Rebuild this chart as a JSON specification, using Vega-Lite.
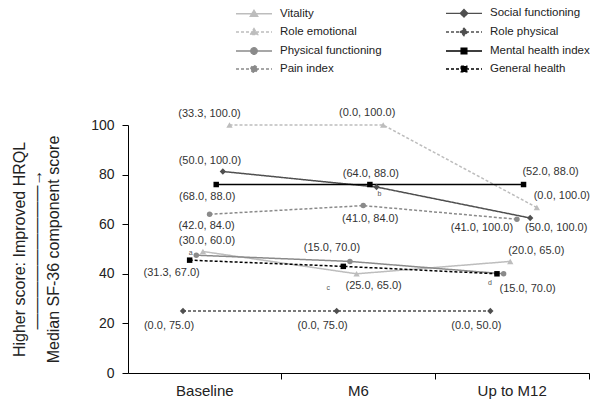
{
  "$schema": "https://vega.github.io/schema/vega-lite/v6.json",
  "width": 461,
  "height": 248,
  "autosize": "none",
  "padding": {"left": 128, "top": 125, "right": 2, "bottom": 30},
  "background": "white",
  "config": {
    "font": "Liberation Sans",
    "view": {"stroke": null},
    "legend": {
      "orient": "none",
      "legendX": 116,
      "legendY": -122,
      "columns": 2,
      "columnPadding": 61,
      "rowPadding": 2,
      "padding": 0,
      "labelFontSize": 11.5,
      "labelColor": "#222",
      "labelOffset": 16,
      "symbolSize": 324,
      "symbolStrokeWidth": 1.3,
      "symbolOpacity": 1
    }
  },
  "data": {
    "values": [
      {"series": "Vitality", "time": "Baseline", "value": 49, "label": "(30.0, 60.0)", "note": null},
      {"series": "Vitality", "time": "M6", "value": 40, "label": "(25.0, 65.0)", "note": null},
      {"series": "Vitality", "time": "Up to M12", "value": 45, "label": "(20.0, 65.0)", "note": null},
      {"series": "Role emotional", "time": "Baseline", "value": 100, "label": "(33.3, 100.0)", "note": null},
      {"series": "Role emotional", "time": "M6", "value": 100, "label": "(0.0, 100.0)", "note": null},
      {"series": "Role emotional", "time": "Up to M12", "value": 66.7, "label": "(0.0, 100.0)", "note": null},
      {"series": "Physical functioning", "time": "Baseline", "value": 47.5, "label": null, "note": null},
      {"series": "Physical functioning", "time": "M6", "value": 45, "label": "(15.0, 70.0)", "note": null},
      {"series": "Physical functioning", "time": "Up to M12", "value": 40, "label": "(15.0, 70.0)", "note": null},
      {"series": "Pain index", "time": "Baseline", "value": 64, "label": "(42.0, 84.0)", "note": null},
      {"series": "Pain index", "time": "M6", "value": 67.5, "label": "(41.0, 84.0)", "note": null},
      {"series": "Pain index", "time": "Up to M12", "value": 62, "label": "(41.0, 100.0)", "note": null},
      {"series": "Social functioning", "time": "Baseline", "value": 81.25, "label": "(50.0, 100.0)", "note": null},
      {"series": "Social functioning", "time": "M6", "value": 75, "label": null, "note": "b"},
      {"series": "Social functioning", "time": "Up to M12", "value": 62.5, "label": "(50.0, 100.0)", "note": null},
      {"series": "Role physical", "time": "Baseline", "value": 25, "label": "(0.0, 75.0)", "note": null},
      {"series": "Role physical", "time": "M6", "value": 25, "label": "(0.0, 75.0)", "note": null},
      {"series": "Role physical", "time": "Up to M12", "value": 25, "label": "(0.0, 50.0)", "note": null},
      {"series": "Mental health index", "time": "Baseline", "value": 76, "label": "(68.0, 88.0)", "note": null},
      {"series": "Mental health index", "time": "M6", "value": 76, "label": "(64.0, 88.0)", "note": null},
      {"series": "Mental health index", "time": "Up to M12", "value": 76, "label": "(52.0, 88.0)", "note": null},
      {"series": "General health", "time": "Baseline", "value": 45.5, "label": "(31.3, 67.0)", "note": "a"},
      {"series": "General health", "time": "M6", "value": 43, "label": null, "note": "c"},
      {"series": "General health", "time": "Up to M12", "value": 40, "label": null, "note": "d"}
    ]
  },
  "encoding": {
    "x": {
      "field": "time", "type": "nominal", "sort": ["Baseline", "M6", "Up to M12"],
      "scale": {"paddingInner": 0, "paddingOuter": 0},
      "axis": {"title": null, "labelAngle": 0, "labelFontSize": 15, "labelColor": "#222", "bandPosition": 1, "tickSize": 6, "labelPadding": 4, "grid": false,
               "domain": true, "ticks": true, "domainColor": "#000", "tickColor": "#000", "domainWidth": 1, "tickWidth": 1, "domainOpacity": 1, "tickOpacity": 1}
    },
    "xOffset": {
      "field": "series", "type": "nominal",
      "scale": {"type": "point", "padding": 0, "domain": ["Role physical", "General health", "Physical functioning", "Vitality", "Pain index", "Mental health index", "Social functioning", "Role emotional"], "range": [55, 101.5]}
    },
    "y": {
      "field": "value", "type": "quantitative",
      "scale": {"domain": [0, 100], "nice": false, "zero": true},
      "axis": {
        "values": [0, 20, 40, 60, 80, 100], "grid": false, "labelFontSize": 14, "labelColor": "#222",
        "tickSize": 6, "labelPadding": 8,
        "domain": true, "ticks": true, "domainColor": "#000", "tickColor": "#000", "domainWidth": 1, "tickWidth": 1, "domainOpacity": 1, "tickOpacity": 1,
        "title": ["Higher score: Improved HRQL", "—————————→", "", "Median SF-36 component score"],
        "titleFontSize": 16, "titleFontWeight": "normal", "titleColor": "#222", "titleLineHeight": 17, "titlePadding": 12
      }
    }
  },
  "layer": [
    {
      "mark": {"type": "line", "strokeWidth": 1.5},
      "encoding": {
        "stroke": {"field": "series", "type": "nominal", "legend": {"title": null},
          "scale": {"domain": ["Vitality", "Role emotional", "Physical functioning", "Pain index", "Social functioning", "Role physical", "Mental health index", "General health"],
                    "range": ["#bdbdbd", "#bdbdbd", "#8a8a8a", "#8a8a8a", "#4f4f4f", "#4f4f4f", "#000000", "#000000"]}},
        "strokeDash": {"field": "series", "type": "nominal", "legend": {"title": null},
          "scale": {"domain": ["Vitality", "Role emotional", "Physical functioning", "Pain index", "Social functioning", "Role physical", "Mental health index", "General health"],
                    "range": [[1, 0], [3, 2], [1, 0], [3, 2], [1, 0], [3, 2], [1, 0], [3, 2]]}}
      }
    },
    {
      "transform": [{"filter": "false"}],
      "mark": {"type": "point", "filled": true, "size": 324, "strokeWidth": 1.3, "opacity": 1},
      "encoding": {
        "fill": {"field": "series", "type": "nominal", "legend": {"title": null},
          "scale": {"domain": ["Vitality", "Role emotional", "Physical functioning", "Pain index", "Social functioning", "Role physical", "Mental health index", "General health"],
                    "range": ["#bdbdbd", "#bdbdbd", "#8a8a8a", "#8a8a8a", "#4f4f4f", "#4f4f4f", "#000000", "#000000"]}},
        "stroke": {"field": "series", "type": "nominal", "legend": {"title": null}},
        "strokeDash": {"field": "series", "type": "nominal", "legend": {"title": null}},
        "shape": {"field": "series", "type": "nominal", "legend": {"title": null},
          "scale": {"domain": ["Vitality", "Role emotional", "Physical functioning", "Pain index", "Social functioning", "Role physical", "Mental health index", "General health"],
                    "range": [
                      "M-2,0H2M0,-0.4L0.42,0.3L-0.42,0.3Z",
                      "M-2,0H2M0,-0.4L0.42,0.3L-0.42,0.3Z",
                      "M-2,0H2M0.36,0A0.36,0.36 0 1,1 -0.36,0A0.36,0.36 0 1,1 0.36,0Z",
                      "M-2,0H2M0.36,0A0.36,0.36 0 1,1 -0.36,0A0.36,0.36 0 1,1 0.36,0Z",
                      "M-2,0H2M0,-0.42L0.42,0L0,0.42L-0.42,0Z",
                      "M-2,0H2M0,-0.42L0.42,0L0,0.42L-0.42,0Z",
                      "M-2,0H2M-0.32,-0.32H0.32V0.32H-0.32Z",
                      "M-2,0H2M-0.32,-0.32H0.32V0.32H-0.32Z"
                    ]}}
      }
    },
    {
      "transform": [{"filter": {"field": "series", "oneOf": ["Vitality", "Role emotional"]}}],
      "mark": {"type": "point", "shape": "triangle-up", "filled": true, "size": 40, "opacity": 1},
      "encoding": {"fill": {"field": "series", "type": "nominal", "legend": {"title": null}}}
    },
    {
      "transform": [{"filter": {"field": "series", "oneOf": ["Physical functioning", "Pain index"]}}],
      "mark": {"type": "point", "shape": "circle", "filled": true, "size": 30, "opacity": 1},
      "encoding": {"fill": {"field": "series", "type": "nominal", "legend": {"title": null}}}
    },
    {
      "transform": [{"filter": {"field": "series", "oneOf": ["Social functioning", "Role physical"]}}],
      "mark": {"type": "point", "shape": "diamond", "filled": true, "size": 40, "opacity": 1},
      "encoding": {"fill": {"field": "series", "type": "nominal", "legend": {"title": null}}}
    },
    {
      "transform": [{"filter": {"field": "series", "oneOf": ["Mental health index", "General health"]}}],
      "mark": {"type": "point", "shape": "square", "filled": true, "size": 30, "opacity": 1},
      "encoding": {"fill": {"field": "series", "type": "nominal", "legend": {"title": null}}}
    },
    {
      "encoding": {"text": {"field": "label"}},
      "layer": [
        {"transform": [{"filter": "datum.series==='Role emotional'&&datum.time==='Baseline'"}], "mark": {"type": "text", "dx": -20, "dy": -11, "fontSize": 11, "color": "#333"}},
        {"transform": [{"filter": "datum.series==='Role emotional'&&datum.time==='M6'"}], "mark": {"type": "text", "dx": -16, "dy": -12, "fontSize": 11, "color": "#333"}},
        {"transform": [{"filter": "datum.series==='Role emotional'&&datum.time==='Up to M12'"}], "mark": {"type": "text", "dx": 25, "dy": -12, "fontSize": 11, "color": "#333"}},
        {"transform": [{"filter": "datum.series==='Social functioning'&&datum.time==='Baseline'"}], "mark": {"type": "text", "dx": -13, "dy": -11, "fontSize": 11, "color": "#333"}},
        {"transform": [{"filter": "datum.series==='Social functioning'&&datum.time==='Up to M12'"}], "mark": {"type": "text", "dx": 26, "dy": 10, "fontSize": 11, "color": "#333"}},
        {"transform": [{"filter": "datum.series==='Mental health index'&&datum.time==='Baseline'"}], "mark": {"type": "text", "dx": -9, "dy": 12, "fontSize": 11, "color": "#333"}},
        {"transform": [{"filter": "datum.series==='Mental health index'&&datum.time==='M6'"}], "mark": {"type": "text", "dx": 1, "dy": -11, "fontSize": 11, "color": "#333"}},
        {"transform": [{"filter": "datum.series==='Mental health index'&&datum.time==='Up to M12'"}], "mark": {"type": "text", "dx": 27, "dy": -13, "fontSize": 11, "color": "#333"}},
        {"transform": [{"filter": "datum.series==='Pain index'&&datum.time==='Baseline'"}], "mark": {"type": "text", "dx": -3, "dy": 12, "fontSize": 11, "color": "#333"}},
        {"transform": [{"filter": "datum.series==='Pain index'&&datum.time==='M6'"}], "mark": {"type": "text", "dx": 7, "dy": 13, "fontSize": 11, "color": "#333"}},
        {"transform": [{"filter": "datum.series==='Pain index'&&datum.time==='Up to M12'"}], "mark": {"type": "text", "dx": -35, "dy": 9, "fontSize": 11, "color": "#333"}},
        {"transform": [{"filter": "datum.series==='Vitality'&&datum.time==='Baseline'"}], "mark": {"type": "text", "dx": 4, "dy": -10, "fontSize": 11, "color": "#333"}},
        {"transform": [{"filter": "datum.series==='Vitality'&&datum.time==='M6'"}], "mark": {"type": "text", "dx": 17, "dy": 12, "fontSize": 11, "color": "#333"}},
        {"transform": [{"filter": "datum.series==='Vitality'&&datum.time==='Up to M12'"}], "mark": {"type": "text", "dx": 26, "dy": -10, "fontSize": 11, "color": "#333"}},
        {"transform": [{"filter": "datum.series==='Physical functioning'&&datum.time==='M6'"}], "mark": {"type": "text", "dx": -18, "dy": -13, "fontSize": 11, "color": "#333"}},
        {"transform": [{"filter": "datum.series==='Physical functioning'&&datum.time==='Up to M12'"}], "mark": {"type": "text", "dx": 24, "dy": 15, "fontSize": 11, "color": "#333"}},
        {"transform": [{"filter": "datum.series==='General health'&&datum.time==='Baseline'"}], "mark": {"type": "text", "dx": -18, "dy": 13, "fontSize": 11, "color": "#333"}},
        {"transform": [{"filter": "datum.series==='Role physical'"}], "mark": {"type": "text", "dx": -14, "dy": 15, "fontSize": 11, "color": "#333"}}
      ]
    },
    {
      "encoding": {"text": {"field": "note"}},
      "layer": [
        {"transform": [{"filter": "datum.series==='General health'&&datum.time==='Baseline'"}], "mark": {"type": "text", "dx": 1, "dy": -7, "fontSize": 7, "color": "#555"}},
        {"transform": [{"filter": "datum.series==='Social functioning'&&datum.time==='M6'"}], "mark": {"type": "text", "dx": 3, "dy": 7, "fontSize": 7, "color": "#555"}},
        {"transform": [{"filter": "datum.series==='General health'&&datum.time==='M6'"}], "mark": {"type": "text", "dx": -15, "dy": 22, "fontSize": 7, "color": "#555"}},
        {"transform": [{"filter": "datum.series==='General health'&&datum.time==='Up to M12'"}], "mark": {"type": "text", "dx": -7, "dy": 9, "fontSize": 7, "color": "#555"}}
      ]
    }
  ]
}
